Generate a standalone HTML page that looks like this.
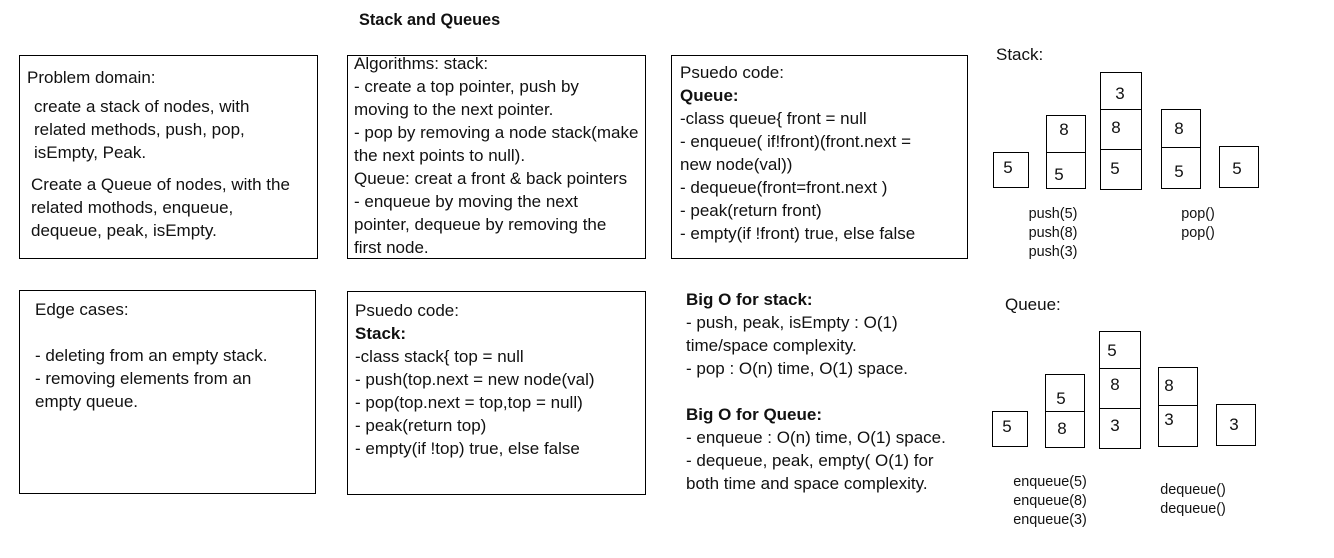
<!DOCTYPE html>
<html><head><meta charset="utf-8"><style>
body{margin:0;width:1334px;height:558px;background:#fff;position:relative;overflow:hidden;font-family:"Liberation Sans",sans-serif;color:#111}
.b{position:absolute;border:1px solid #000;box-sizing:border-box}
.t{position:absolute;white-space:nowrap;font-size:17px;line-height:20px;transform:translateY(-10px)}
.s{position:absolute;border:1px solid #000;box-sizing:border-box;background:#fff}
.n{position:absolute;font-size:17px;line-height:20px;transform:translate(-50%,-50%)}
.l{position:absolute;font-size:14.4px;line-height:16px;white-space:nowrap;transform:translate(-50%,-50%)}
b{font-weight:bold}
</style></head><body>
<div class="t" style="left:359px;top:20px;font-weight:bold;font-size:16.3px">Stack and Queues</div>

<div class="b" style="left:19px;top:55px;width:299px;height:204px"></div>
<div class="t" style="left:27px;top:78px">Problem domain:</div>
<div class="t" style="left:34px;top:107px">create a stack of nodes, with</div>
<div class="t" style="left:34px;top:130px">related methods, push, pop,</div>
<div class="t" style="left:34px;top:153px">isEmpty, Peak.</div>
<div class="t" style="left:31px;top:185px">Create a Queue of nodes, with the</div>
<div class="t" style="left:31px;top:208px">related mothods, enqueue,</div>
<div class="t" style="left:31px;top:231px">dequeue, peak, isEmpty.</div>

<div class="b" style="left:347px;top:55px;width:299px;height:204px"></div>
<div class="t" style="left:354px;top:64px">Algorithms: stack:</div>
<div class="t" style="left:354px;top:87px">- create a top pointer, push by</div>
<div class="t" style="left:354px;top:110px">moving to the next pointer.</div>
<div class="t" style="left:354px;top:133px">- pop by removing a node stack(make</div>
<div class="t" style="left:354px;top:156px">the next points to null).</div>
<div class="t" style="left:354px;top:179px">Queue: creat a front &amp; back pointers</div>
<div class="t" style="left:354px;top:202px">- enqueue by moving the next</div>
<div class="t" style="left:354px;top:225px">pointer, dequeue by removing the</div>
<div class="t" style="left:354px;top:248px">first node.</div>

<div class="b" style="left:671px;top:55px;width:297px;height:204px"></div>
<div class="t" style="left:680px;top:73px">Psuedo code:</div>
<div class="t" style="left:680px;top:96px"><b>Queue:</b></div>
<div class="t" style="left:680px;top:119px">-class queue{ front = null</div>
<div class="t" style="left:680px;top:142px">- enqueue( if!front)(front.next =</div>
<div class="t" style="left:680px;top:165px">new node(val))</div>
<div class="t" style="left:680px;top:188px">- dequeue(front=front.next )</div>
<div class="t" style="left:680px;top:211px">- peak(return front)</div>
<div class="t" style="left:680px;top:234px">- empty(if !front) true, else false</div>

<div class="b" style="left:19px;top:290px;width:297px;height:204px"></div>
<div class="t" style="left:35px;top:310px">Edge cases:</div>
<div class="t" style="left:35px;top:356px">- deleting from an empty stack.</div>
<div class="t" style="left:35px;top:379px">- removing elements from an</div>
<div class="t" style="left:35px;top:402px">empty queue.</div>

<div class="b" style="left:347px;top:291px;width:299px;height:204px"></div>
<div class="t" style="left:355px;top:311px">Psuedo code:</div>
<div class="t" style="left:355px;top:334px"><b>Stack:</b></div>
<div class="t" style="left:355px;top:357px">-class stack{ top = null</div>
<div class="t" style="left:355px;top:380px">- push(top.next = new node(val)</div>
<div class="t" style="left:355px;top:403px">- pop(top.next = top,top = null)</div>
<div class="t" style="left:355px;top:426px">- peak(return top)</div>
<div class="t" style="left:355px;top:449px">- empty(if !top) true, else false</div>

<div class="t" style="left:686px;top:300px"><b>Big O for stack:</b></div>
<div class="t" style="left:686px;top:323px">- push, peak, isEmpty : O(1)</div>
<div class="t" style="left:686px;top:346px">time/space complexity.</div>
<div class="t" style="left:686px;top:369px">- pop : O(n) time, O(1) space.</div>
<div class="t" style="left:686px;top:415px"><b>Big O for Queue:</b></div>
<div class="t" style="left:686px;top:438px">- enqueue : O(n) time, O(1) space.</div>
<div class="t" style="left:686px;top:461px">- dequeue, peak, empty( O(1) for</div>
<div class="t" style="left:686px;top:484px">both time and space complexity.</div>

<div class="t" style="left:996px;top:55px">Stack:</div>
<div class="s" style="left:993px;top:152px;width:36px;height:36px"></div><div class="n" style="left:1008px;top:168px">5</div>
<div class="s" style="left:1046px;top:115px;width:40px;height:74px"></div><div class="s" style="left:1046px;top:152px;width:40px;height:37px"></div>
<div class="n" style="left:1064px;top:130px">8</div><div class="n" style="left:1059px;top:175px">5</div>
<div class="s" style="left:1100px;top:72px;width:42px;height:118px"></div><div class="s" style="left:1100px;top:109px;width:42px;height:41px"></div>
<div class="n" style="left:1120px;top:94px">3</div><div class="n" style="left:1116px;top:128px">8</div><div class="n" style="left:1115px;top:169px">5</div>
<div class="s" style="left:1161px;top:109px;width:40px;height:80px"></div><div class="s" style="left:1161px;top:147px;width:40px;height:42px"></div>
<div class="n" style="left:1179px;top:129px">8</div><div class="n" style="left:1179px;top:172px">5</div>
<div class="s" style="left:1219px;top:146px;width:40px;height:42px"></div><div class="n" style="left:1237px;top:169px">5</div>
<div class="l" style="left:1053px;top:214px">push(5)</div>
<div class="l" style="left:1053px;top:233px">push(8)</div>
<div class="l" style="left:1053px;top:252px">push(3)</div>
<div class="l" style="left:1198px;top:214px">pop()</div>
<div class="l" style="left:1198px;top:233px">pop()</div>

<div class="t" style="left:1005px;top:305px">Queue:</div>
<div class="s" style="left:992px;top:411px;width:36px;height:36px"></div><div class="n" style="left:1007px;top:427px">5</div>
<div class="s" style="left:1045px;top:374px;width:40px;height:74px"></div><div class="s" style="left:1045px;top:411px;width:40px;height:37px"></div>
<div class="n" style="left:1061px;top:399px">5</div><div class="n" style="left:1062px;top:429px">8</div>
<div class="s" style="left:1099px;top:331px;width:42px;height:118px"></div><div class="s" style="left:1099px;top:368px;width:42px;height:41px"></div>
<div class="n" style="left:1112px;top:351px">5</div><div class="n" style="left:1115px;top:385px">8</div><div class="n" style="left:1115px;top:426px">3</div>
<div class="s" style="left:1158px;top:367px;width:40px;height:80px"></div><div class="s" style="left:1158px;top:405px;width:40px;height:42px"></div>
<div class="n" style="left:1169px;top:386px">8</div><div class="n" style="left:1169px;top:420px">3</div>
<div class="s" style="left:1216px;top:404px;width:40px;height:42px"></div><div class="n" style="left:1234px;top:425px">3</div>
<div class="l" style="left:1050px;top:482px">enqueue(5)</div>
<div class="l" style="left:1050px;top:501px">enqueue(8)</div>
<div class="l" style="left:1050px;top:520px">enqueue(3)</div>
<div class="l" style="left:1193px;top:490px">dequeue()</div>
<div class="l" style="left:1193px;top:509px">dequeue()</div>
</body></html>
